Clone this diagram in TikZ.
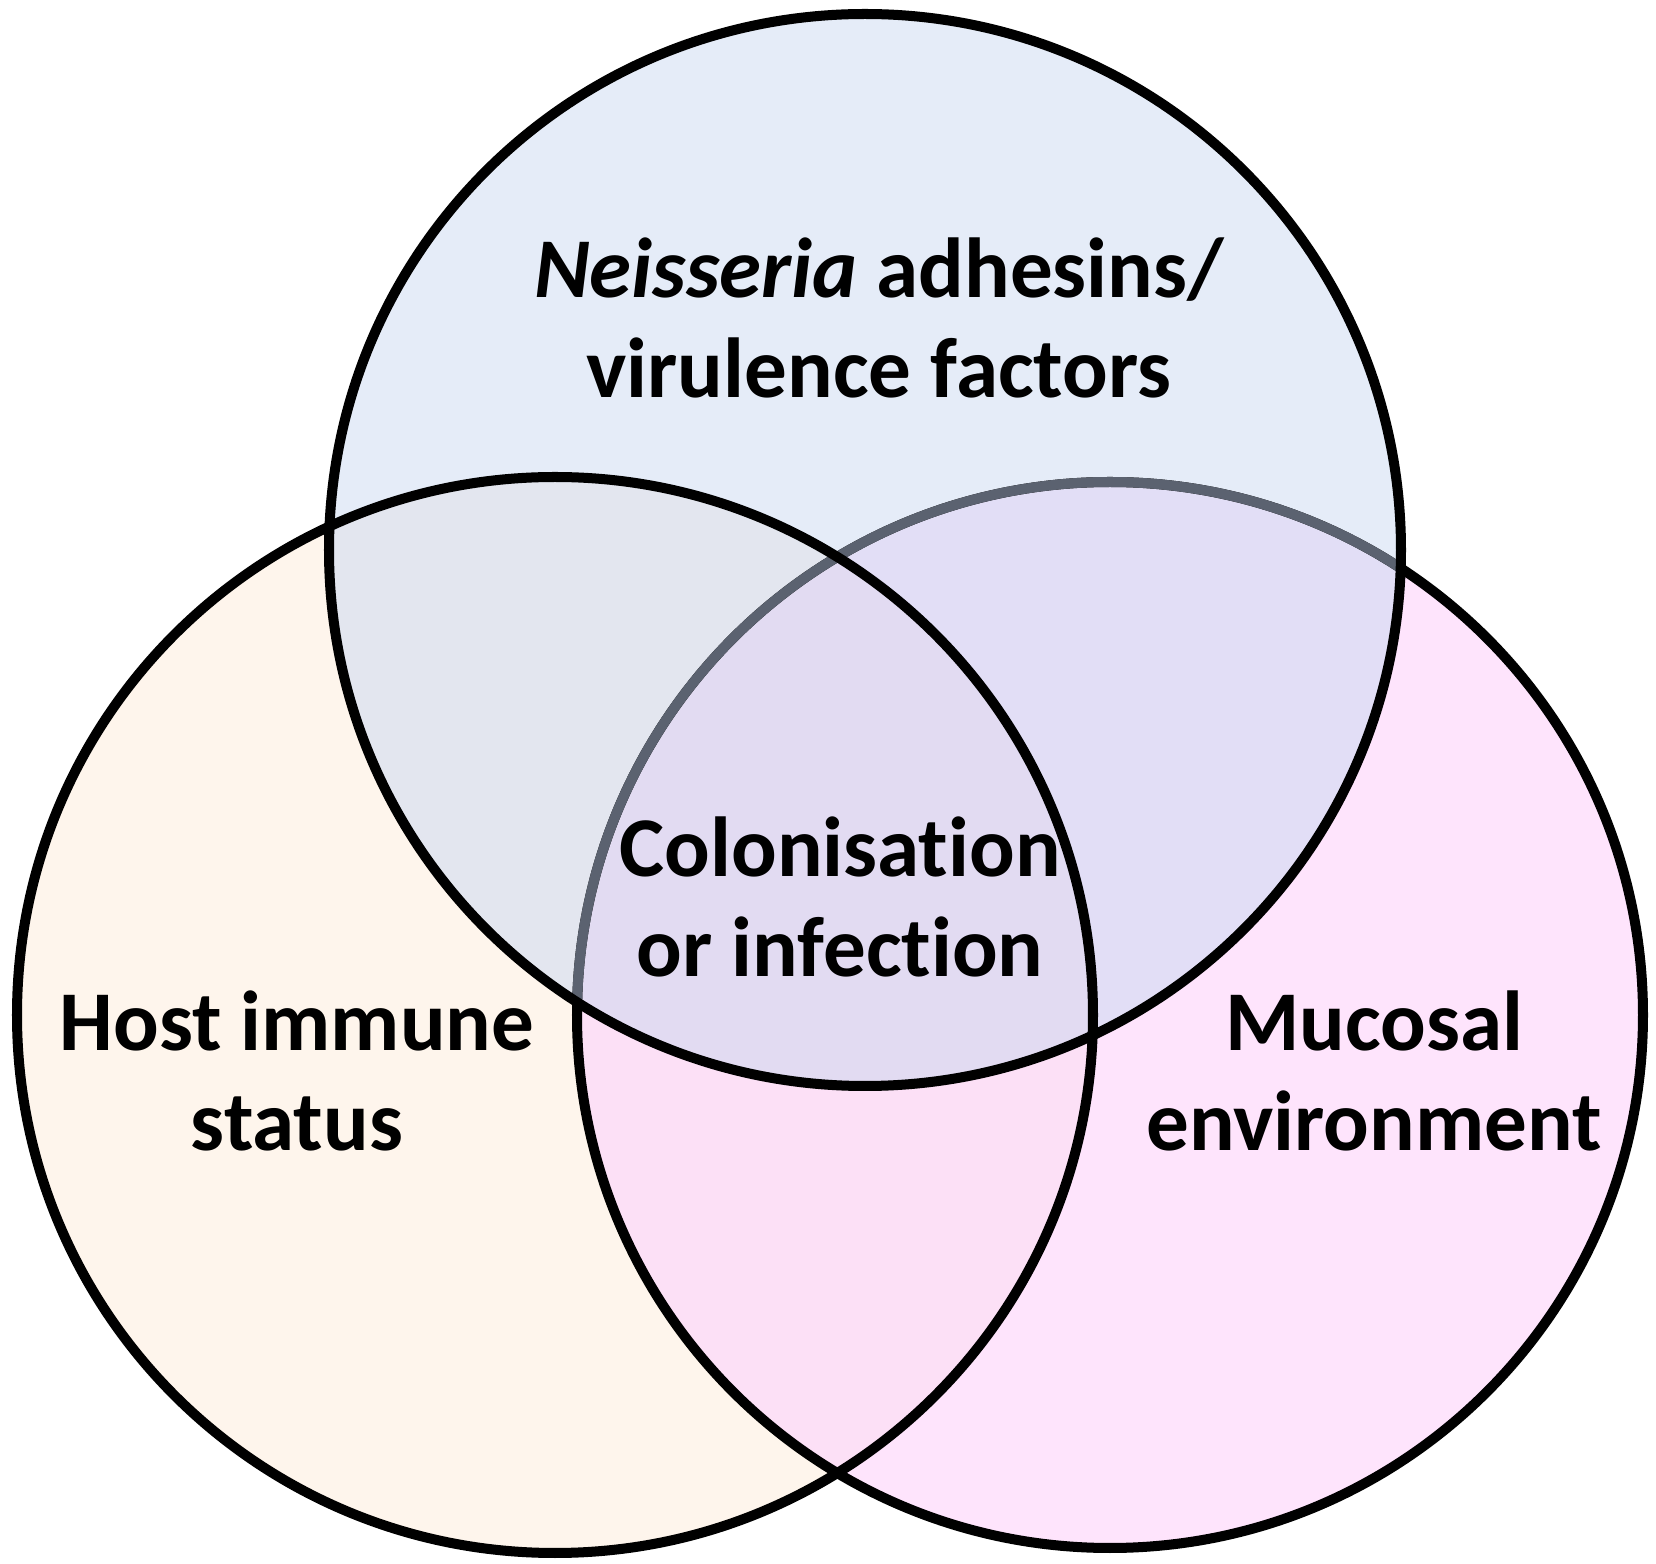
\documentclass[tikz,border=0pt]{standalone}
\usepackage{fontspec}
\setmainfont{Carlito}[Ligatures=NoCommon]
\definecolor{cT}{HTML}{E5ECF8}
\definecolor{cL}{HTML}{FEF5EC}
\definecolor{cR}{HTML}{FEE4FC}
\definecolor{cTL}{HTML}{E3E6EF}
\definecolor{cTR}{HTML}{E2DEF6}
\definecolor{cLR}{HTML}{FCE0F6}
\definecolor{cTLR}{HTML}{E2DBF2}
\definecolor{cGrey}{HTML}{5B6270}
\tikzset{
  ring/.style={line width=0.1cm},
  lbl/.style={font=\bfseries\fontsize{24.2}{28.6}\selectfont, align=center, anchor=base, inner sep=0pt}
}
\begin{document}
\begin{tikzpicture}[x=0.01cm,y=-0.01cm]
\useasboundingbox (0,0) rectangle (1656,1564);
\coordinate (ct) at (865,550);
\coordinate (cl) at (555,1015);
\coordinate (cr) at (1110,1015);
\def\pT{(ct) circle[radius=536]}
\def\pL{(cl) circle[radius=538]}
\def\pR{(cr) circle[radius=533]}
% fills
\fill[cL] \pL;
\fill[cR] \pR;
\fill[cT] \pT;
\begin{scope}
  \clip \pL;
  \fill[cLR] \pR;
\end{scope}
\begin{scope}
  \clip \pT;
  \fill[cTL] \pL;
  \fill[cTR] \pR;
  \clip \pL;
  \fill[cTLR] \pR;
\end{scope}
% outlines
\draw[ring] \pR;
\begin{scope}
  \clip \pT;
  \draw[ring, cGrey] \pR;
\end{scope}
\draw[ring] \pT;
\draw[ring] \pL;
% labels (anchor base = baseline of the last line)
\node[lbl] (top) at (879,398) {\textit{Neisseria} adhesins/\\virulence factors};
\node[lbl] (mid) at (840,977) {Colonisation\\or infection};
\node[lbl] (host) at (297,1151) {Host immune\\status};
\node[lbl] (muc) at (1374,1151) {Mucosal\\environment};
\end{tikzpicture}
\end{document}
